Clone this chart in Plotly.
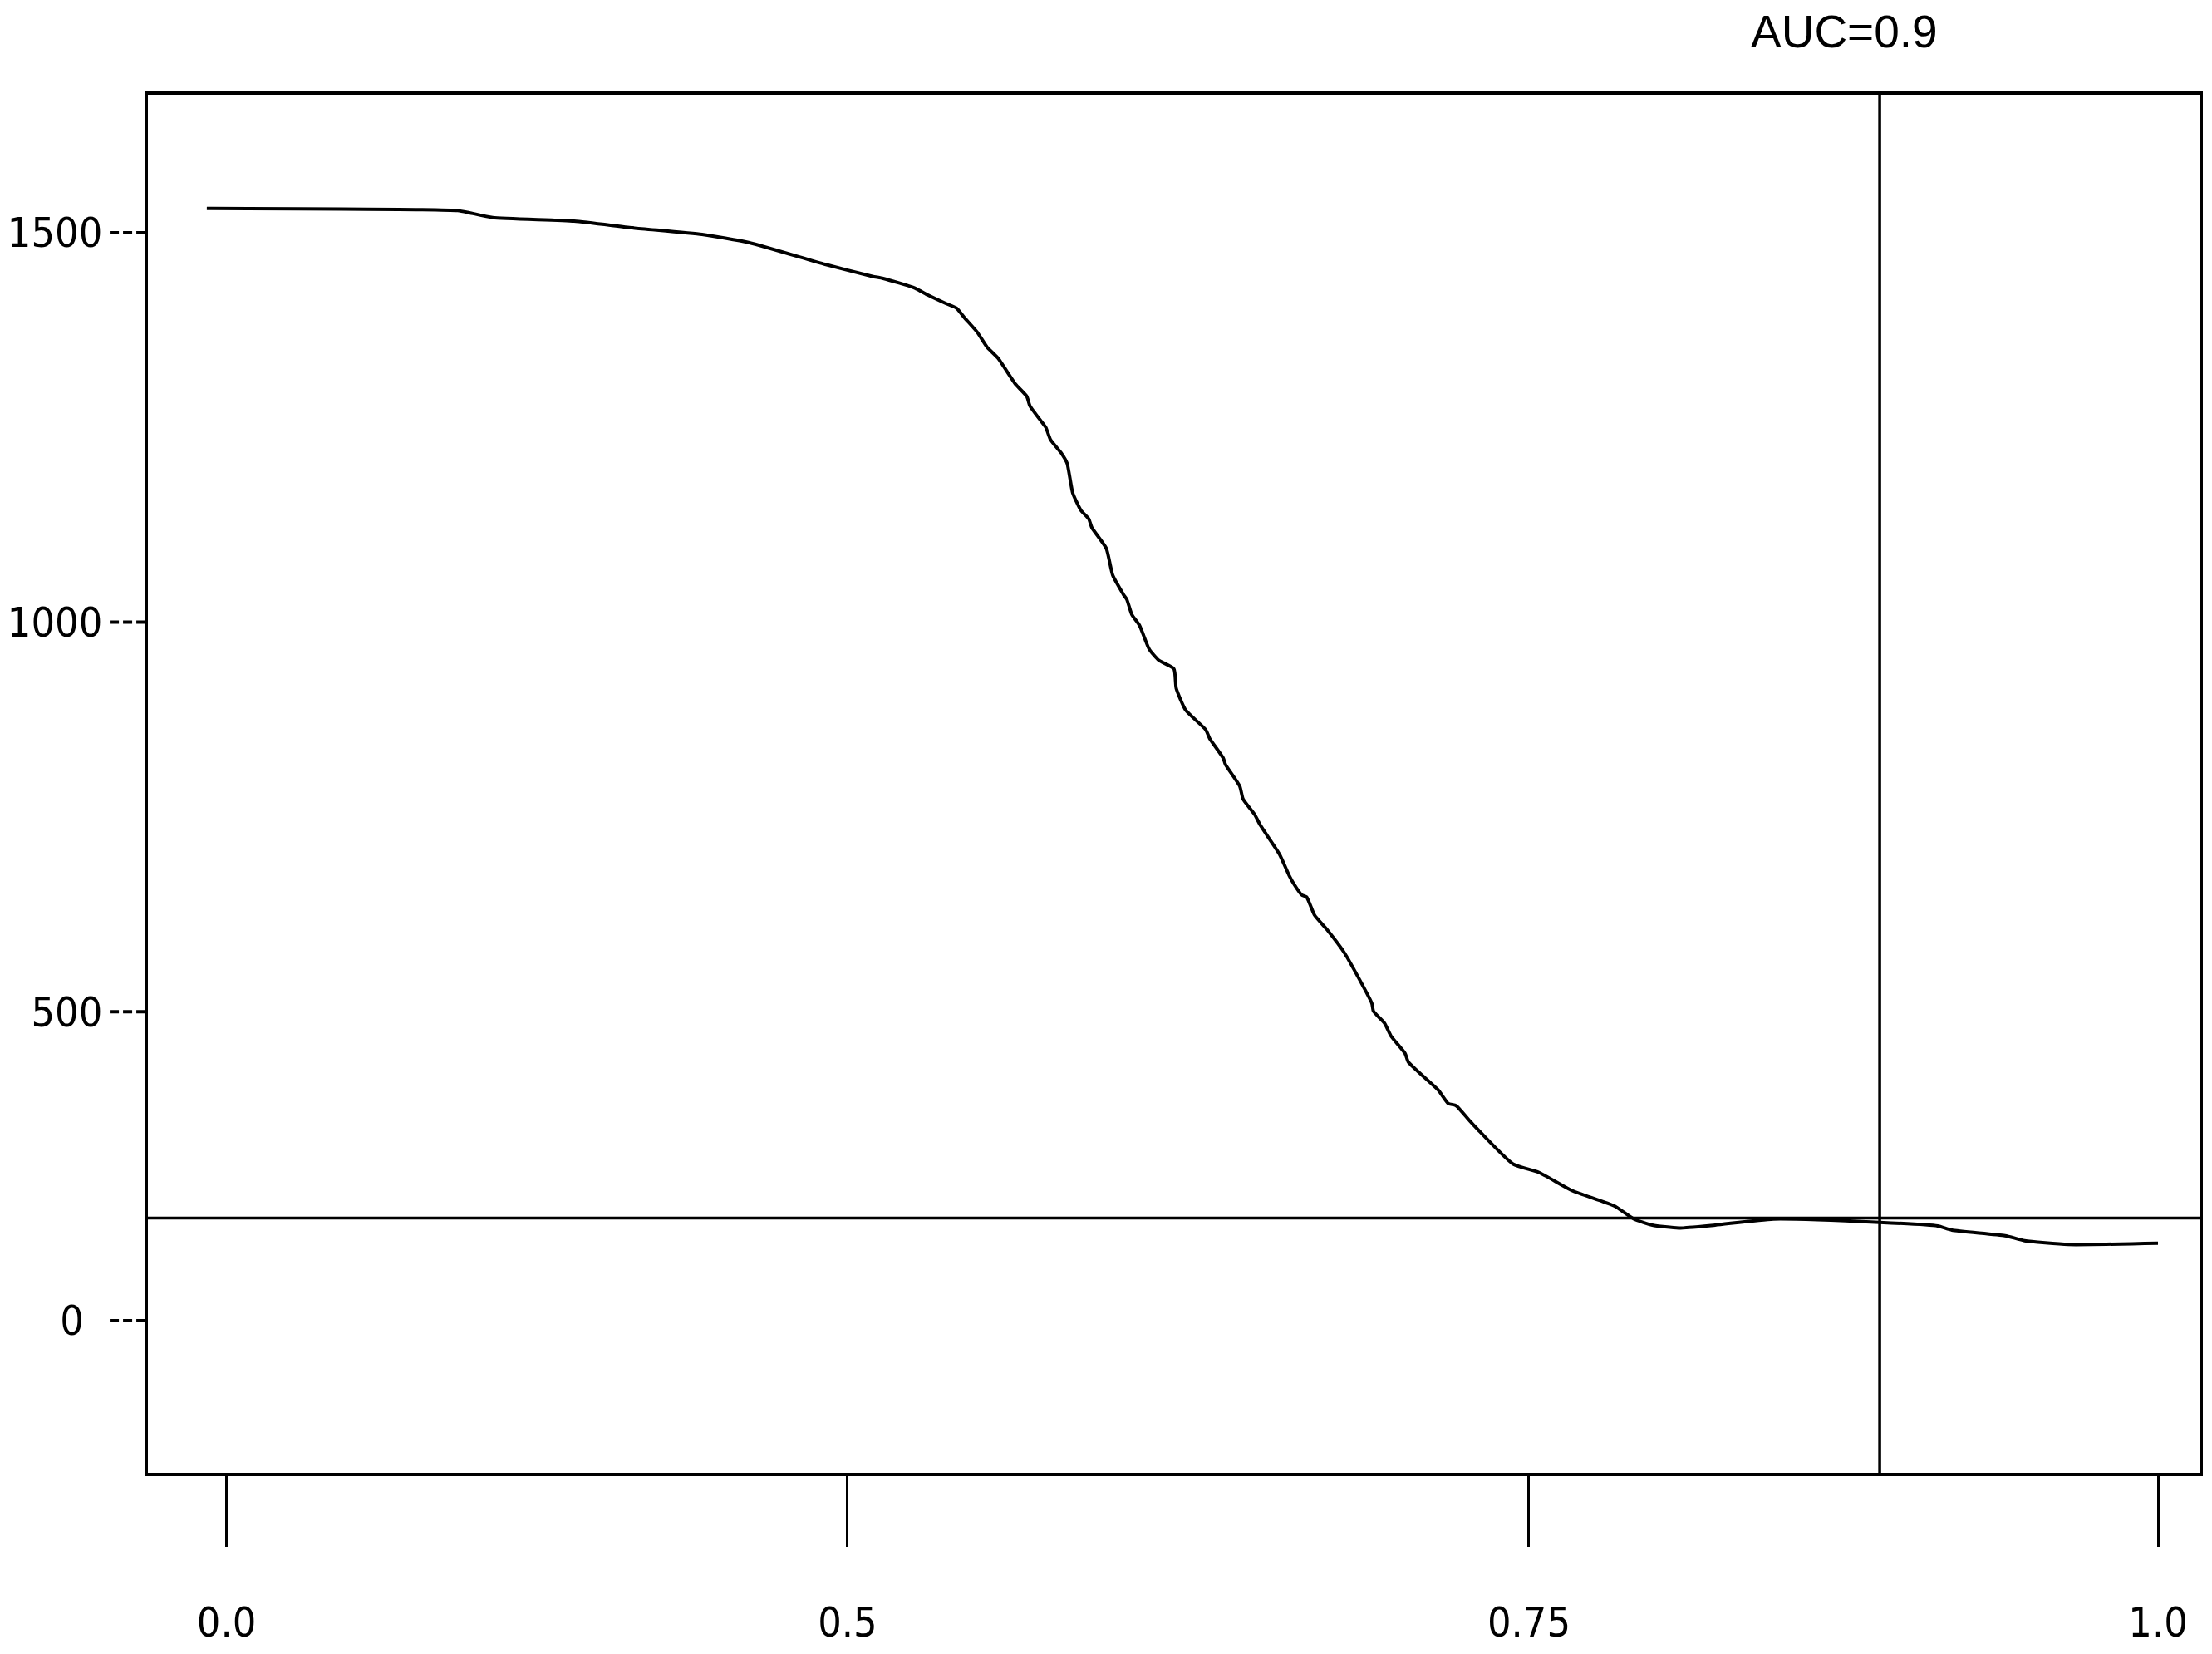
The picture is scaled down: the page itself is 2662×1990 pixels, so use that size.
import plotly.graph_objects as go

# ---- data ----
x_vals = [-0.0102, 0.1197, 0.1258, 0.1378, 0.1800, 0.2101, 0.2462, 0.2703, 0.3099, 0.3344,
          0.3400, 0.3564, 0.3632, 0.3723, 0.3779, 0.3822, 0.3886, 0.3938, 0.3994, 0.4084,
          0.4143, 0.4159, 0.4217, 0.4242, 0.4266, 0.4324, 0.4352, 0.4381, 0.4423, 0.4464,
          0.4480, 0.4555, 0.4588, 0.4645, 0.4661, 0.4687, 0.4727, 0.4777, 0.4826, 0.4905,
          0.4917, 0.4966, 0.5070, 0.5090, 0.5160, 0.5172, 0.5246, 0.5263, 0.5323, 0.5353,
          0.5452, 0.5501, 0.5526, 0.5567, 0.5592, 0.5633, 0.5698, 0.5790, 0.5930, 0.5938,
          0.5995, 0.6029, 0.6102, 0.6119, 0.6275, 0.6325, 0.6366, 0.6442, 0.6661, 0.6794,
          0.6967, 0.7186, 0.7285, 0.7382, 0.7518, 0.7707, 0.8008, 0.8559, 0.8859, 0.8933,
          0.9208, 0.9309, 0.9535, 1.0000]
y_vals = [1531.1, 1528.3, 1525.5, 1519.4, 1514.8, 1506.2, 1497.7, 1487.4, 1459.3, 1443.9,
          1441.2, 1428.9, 1419.8, 1409.2, 1403.2, 1390.4, 1372.5, 1352.9, 1339.0, 1305.7,
          1289.9, 1277.9, 1258.1, 1249.8, 1234.2, 1216.3, 1204.0, 1165.9, 1143.7, 1132.5,
          1121.4, 1094.6, 1060.3, 1034.9, 1029.3, 1009.8, 995.8, 965.3, 951.2, 940.0,
          915.0, 887.0, 861.8, 850.7, 825.6, 817.2, 789.3, 772.8, 753.0, 739.1,
          701.8, 675.1, 663.9, 649.8, 647.1, 623.9, 605.2, 574.6, 510.5, 500.5,
          485.3, 468.7, 446.3, 435.2, 398.9, 382.2, 379.4, 358.3, 304.4, 293.7,
          270.2, 250.5, 234.0, 226.0, 222.2, 226.0, 233.8, 229.5, 224.9, 219.6,
          212.4, 206.0, 201.1, 202.8]

x_tick_vals = [0.0, 0.3215, 0.6743, 1.0]
x_tick_text = ["0.0", "0.5", "0.75", "1.0"]
y_tick_vals = [103.3, 500, 1000, 1500]
y_tick_text = ["0\u2002", "500", "1000", "1500"]

threshold_x = 0.8559     # vertical reference line
threshold_y = 235.0      # horizontal reference line
auc_label = "AUC=0.9"
auc_label_x = 0.8374

# page body has an 8px margin, so the figure is sized to fit inside the window
W, H = 2646, 1974
tick_font = dict(family="DejaVu Sans Condensed, DejaVu Sans", size=50, color="black")

fig = go.Figure()
fig.add_trace(go.Scatter(
    x=x_vals, y=y_vals, mode="lines",
    line=dict(color="black", width=4, shape="spline", smoothing=0.5),
    showlegend=False, hoverinfo="skip"))

# reference lines
fig.add_shape(type="line", xref="x", yref="paper", x0=threshold_x, x1=threshold_x, y0=0, y1=1,
              line=dict(color="black", width=3.5))
fig.add_shape(type="line", xref="paper", yref="y", x0=0, x1=1, y0=threshold_y, y1=threshold_y,
              line=dict(color="black", width=3.5))

# dashed y tick marks
for v in y_tick_vals:
    fig.add_shape(type="line", xref="paper", yref="y", x0=-0.0186, x1=0, y0=v, y1=v,
                  line=dict(color="black", width=4, dash="11px,5px"))

fig.add_annotation(text=auc_label, xref="x", yref="paper", x=auc_label_x, y=1.046,
                   showarrow=False, xanchor="center", yanchor="middle",
                   font=dict(family="Liberation Sans, Arial", size=55, color="black"))

fig.update_xaxes(range=[-0.0407, 1.0215], tickmode="array", tickvals=x_tick_vals,
                 ticktext=x_tick_text, ticks="outside", ticklen=85, tickwidth=3,
                 tickcolor="black", showline=True, mirror=True, linewidth=3.5, linecolor="black",
                 showgrid=False, zeroline=False, tickfont=tick_font, ticklabelstandoff=48,
                 automargin=False)
fig.update_yaxes(range=[-92, 1677], tickmode="array", tickvals=y_tick_vals,
                 ticktext=y_tick_text, ticks="", showline=True, mirror=True, linewidth=3.5,
                 linecolor="black", showgrid=False, zeroline=False, tickfont=tick_font,
                 ticklabelstandoff=41, automargin=False)

fig.update_layout(width=W, height=H, autosize=False,
                  margin=dict(l=170, r=7, t=106, b=210),
                  paper_bgcolor="white", plot_bgcolor="white")

fig.write_html("out.html")
